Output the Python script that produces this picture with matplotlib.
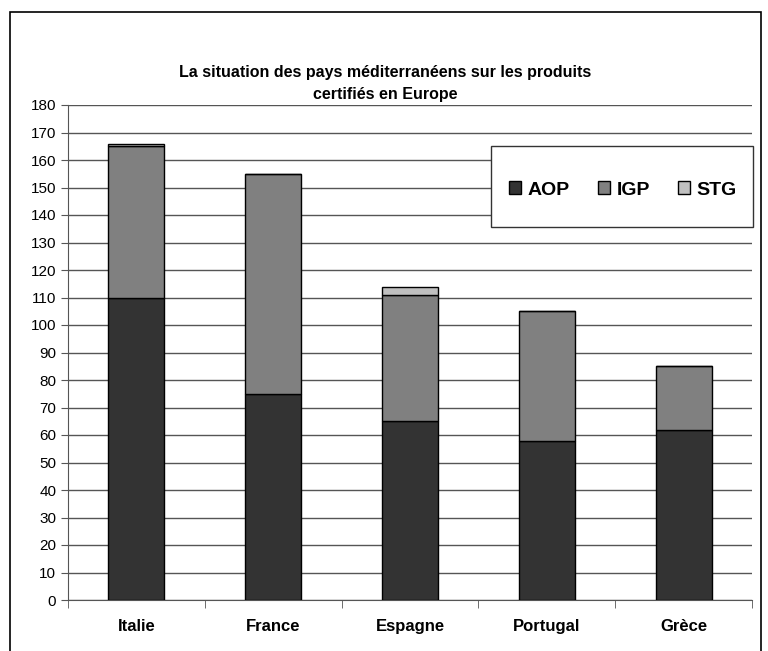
import matplotlib.pyplot as plt
import numpy as np
from matplotlib.patches import Rectangle

plt.rcParams['font.family'] = ['Liberation Sans', 'DejaVu Sans']

countries = ["Italie", "France", "Espagne", "Portugal", "Grèce"]
aop = [110, 75, 65, 58, 62]
igp = [55, 80, 46, 47, 23]
stg = [1, 0, 3, 0, 0]

W, H = 768, 651
fig = plt.figure(figsize=(W / 100, H / 100), dpi=100)
ax = fig.add_axes([68 / W, 1 - 600 / H, (752 - 68) / W, (600 - 105) / H])

# outer chart frame (bottom edge runs off the image)
fig.patches.append(Rectangle((9.5 / W, -0.05), (761 - 9.5) / W, 1 - 12 / H + 0.05,
                             transform=fig.transFigure, fill=False,
                             edgecolor="black", linewidth=1.2))

x = np.arange(len(countries))
bw = 0.41
aop = np.array(aop)
igp = np.array(igp)
stg = np.array(stg)
ax.bar(x, aop, bw, color="#333333", edgecolor="black", linewidth=1, label="AOP", zorder=3)
ax.bar(x, igp, bw, bottom=aop, color="#808080", edgecolor="black", linewidth=1, label="IGP", zorder=3)
ax.bar(x, stg, bw, bottom=aop + igp, color="#c0c0c0", edgecolor="black", linewidth=1, label="STG", zorder=3)

ax.set_xlim(-0.5, len(countries) - 0.5)
ax.set_ylim(0, 180)
ax.set_yticks(range(0, 181, 10))
ax.yaxis.grid(True, color="#555555", linewidth=1)
ax.set_axisbelow(True)
ax.set_xticks(x)
ax.set_xticklabels(countries, fontsize=12, fontweight="bold")
ax.set_xticks(np.arange(-0.5, len(countries), 1), minor=True)
ax.tick_params(axis="x", which="major", length=0, pad=14)
ax.tick_params(axis="x", which="minor", length=6, direction="out", color="#555555")
ax.tick_params(axis="y", labelsize=11, length=5, direction="out", color="#555555")
for s in ["top", "right"]:
    ax.spines[s].set_visible(False)
ax.spines["left"].set_color("#555555")
ax.spines["bottom"].set_color("#555555")

fig.text(385 / W, 1 - 73 / H, "La situation des pays méditerranéens sur les produits",
         ha="center", va="center", fontsize=11.5, fontweight="bold")
fig.text(385 / W, 1 - 94 / H, "certifiés en Europe",
         ha="center", va="center", fontsize=11.5, fontweight="bold")

# legend box drawn separately so it can be taller than the padding allows
box = Rectangle((491 / W, 1 - 227 / H), (753 - 491) / W, (227 - 146) / H,
                transform=fig.transFigure, facecolor="white",
                edgecolor="#333333", linewidth=1, zorder=4)
fig.patches.append(box)
leg = fig.legend(*ax.get_legend_handles_labels(), loc="center",
                 bbox_to_anchor=(623 / W, 1 - 190 / H),
                 ncol=3, prop={"weight": "bold", "size": 14},
                 frameon=False, handlelength=0.6, handleheight=0.6,
                 handletextpad=0.35, columnspacing=1.45, borderpad=0)
leg.set_zorder(5)

fig.savefig("out.png", dpi=100)
